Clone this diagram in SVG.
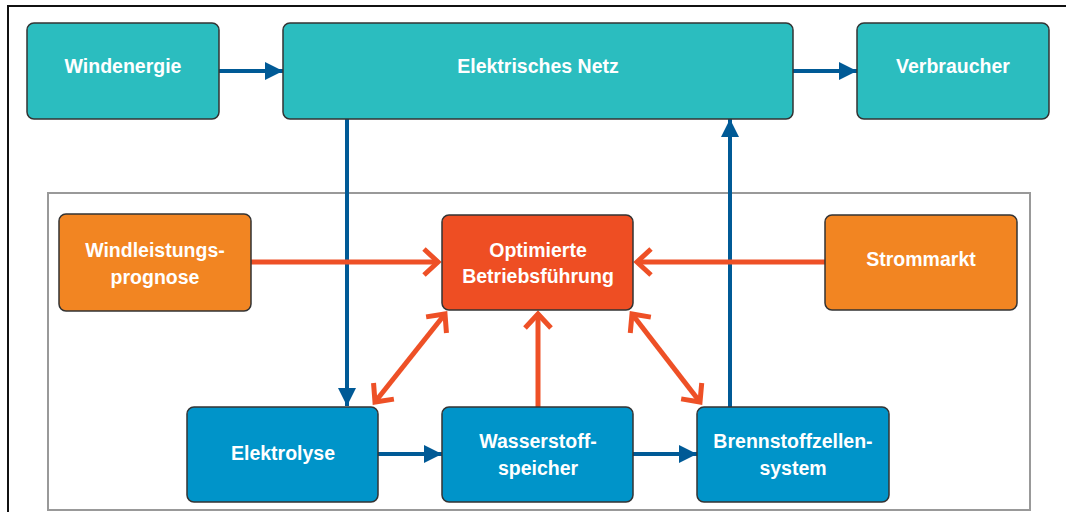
<svg xmlns="http://www.w3.org/2000/svg" width="1066" height="512" viewBox="0 0 1066 512">
  <style>
    .box { stroke: #333; stroke-width: 1.5; }
    .teal { fill: #2BBDBF; }
    .amber { fill: #F28522; }
    .red { fill: #EE4E23; }
    .blue { fill: #0094C9; }
    .lbl { font-family: "Liberation Sans", Arial, sans-serif; font-weight: bold; font-size: 19.5px; fill: #fff; text-anchor: middle; }
    .flow { stroke: #005A96; stroke-width: 4; fill: none; }
    .ctrl { stroke: #EE5026; stroke-width: 5; fill: none; }
  </style>
  <defs>
    <marker id="tri" viewBox="0 0 10 10" refX="10" refY="5" markerUnits="userSpaceOnUse" markerWidth="25" markerHeight="18" orient="auto">
      <path d="M0,0 L10,5 L0,10 Z" fill="#005A96"/>
    </marker>
    <marker id="chev" viewBox="0 0 22 30" refX="18" refY="15" markerUnits="userSpaceOnUse" markerWidth="22" markerHeight="30" orient="auto-start-reverse" overflow="visible">
      <path d="M4,2 L18,15 L4,28" fill="none" stroke="#EE5026" stroke-width="5"/>
    </marker>
  </defs>

  <rect width="1066" height="512" fill="#fff"/>

  <!-- outer frame -->
  <path d="M8,512 V6 H1066" fill="none" stroke="#111" stroke-width="2"/>
  <!-- inner control frame -->
  <rect x="48" y="193" width="982" height="317" fill="none" stroke="#999" stroke-width="2"/>

  <g id="connectors">
    <line class="flow" x1="219" y1="71" x2="283" y2="71" marker-end="url(#tri)"/>
    <line class="flow" x1="793" y1="71" x2="857" y2="71" marker-end="url(#tri)"/>
    <line class="flow" x1="347" y1="119" x2="347" y2="406" marker-end="url(#tri)"/>
    <line class="flow" x1="730" y1="407" x2="730" y2="119" marker-end="url(#tri)"/>
    <line class="flow" x1="378" y1="454" x2="442" y2="454" marker-end="url(#tri)"/>
    <line class="flow" x1="633" y1="454" x2="697" y2="454" marker-end="url(#tri)"/>

    <line class="ctrl" x1="251" y1="262" x2="438" y2="262" marker-end="url(#chev)"/>
    <line class="ctrl" x1="825" y1="262" x2="637" y2="262" marker-end="url(#chev)"/>
    <line class="ctrl" x1="538" y1="407" x2="538" y2="314" marker-end="url(#chev)"/>
    <line class="ctrl" x1="375" y1="402" x2="445" y2="314" marker-start="url(#chev)" marker-end="url(#chev)"/>
    <line class="ctrl" x1="632" y1="314" x2="700" y2="402" marker-start="url(#chev)" marker-end="url(#chev)"/>
  </g>

  <g id="windenergie">
    <rect class="box teal" x="27" y="23" width="192" height="96" rx="7"/>
    <text class="lbl" x="123" y="73">Windenergie</text>
  </g>
  <g id="netz">
    <rect class="box teal" x="283" y="23" width="510" height="96" rx="7"/>
    <text class="lbl" x="538" y="73">Elektrisches Netz</text>
  </g>
  <g id="verbraucher">
    <rect class="box teal" x="857" y="23" width="192" height="96" rx="7"/>
    <text class="lbl" x="953" y="73">Verbraucher</text>
  </g>

  <g id="prognose">
    <rect class="box amber" x="59" y="214" width="192" height="97" rx="7"/>
    <text class="lbl" x="155" y="257">Windleistungs-</text>
    <text class="lbl" x="155" y="284">prognose</text>
  </g>
  <g id="betrieb">
    <rect class="box red" x="442" y="215" width="191" height="95" rx="7"/>
    <text class="lbl" x="538" y="257">Optimierte</text>
    <text class="lbl" x="538" y="283">Betriebsführung</text>
  </g>
  <g id="strommarkt">
    <rect class="box amber" x="825" y="215" width="192" height="95" rx="7"/>
    <text class="lbl" x="921" y="266">Strommarkt</text>
  </g>

  <g id="elektrolyse">
    <rect class="box blue" x="187" y="407" width="191" height="95" rx="7"/>
    <text class="lbl" x="283" y="460">Elektrolyse</text>
  </g>
  <g id="speicher">
    <rect class="box blue" x="442" y="407" width="191" height="95" rx="7"/>
    <text class="lbl" x="538" y="448">Wasserstoff-</text>
    <text class="lbl" x="538" y="475">speicher</text>
  </g>
  <g id="brennstoffzelle">
    <rect class="box blue" x="697" y="407" width="192" height="95" rx="7"/>
    <text class="lbl" x="793" y="448">Brennstoffzellen-</text>
    <text class="lbl" x="793" y="475">system</text>
  </g>
</svg>
